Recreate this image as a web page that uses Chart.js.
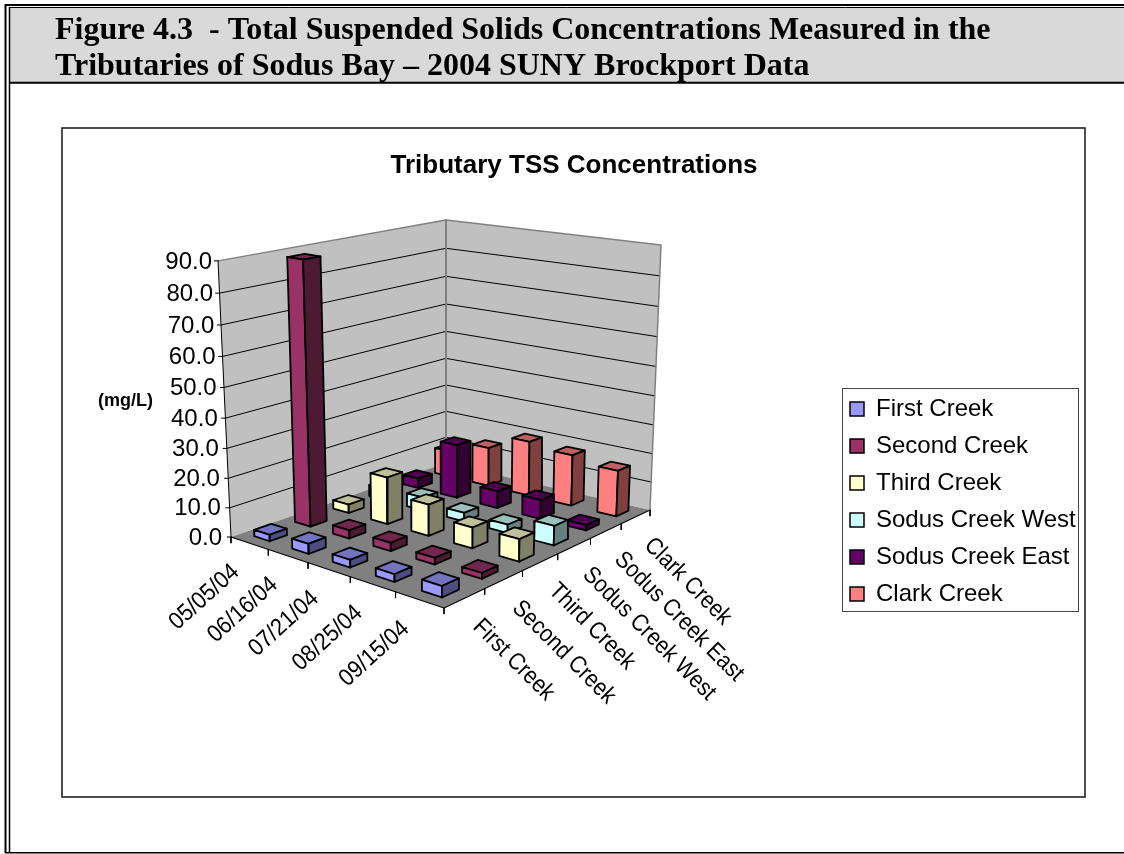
<!DOCTYPE html>
<html><head><meta charset="utf-8">
<style>html,body{margin:0;padding:0;background:#fff}canvas{display:block}</style>
<script src="https://cdn.jsdelivr.net/npm/chart.js@4"></script>
</head><body>
<canvas id="c" width="1124" height="854"></canvas>
<script>
const headingLines = ["Figure 4.3  - Total Suspended Solids Concentrations Measured in the",
  "Tributaries of Sodus Bay \u2013 2004 SUNY Brockport Data"];
const chartTitle = "Tributary TSS Concentrations";
const unitLabel = "(mg/L)";
const dates = ["05/05/04","06/16/04","07/21/04","08/25/04","09/15/04"];
const seriesNames = ["First Creek","Second Creek","Third Creek","Sodus Creek West","Sodus Creek East","Clark Creek"];
const yTicks = [0,10,20,30,40,50,60,70,80,90];
const firstCreek = [2.2,3.4,2.5,2.5,3.6];
const secondCreek = [88.5,2.8,2.8,2.2,1.9];
const thirdCreek = [3,16.2,10.7,7,7.4];
const sodusWest = [4,4.6,3,2.9,6.6];
const sodusEast = [3.5,19,6,6.6,1.8];
const clarkCreek = [9.5,14,19.5,18,16];
const faceColors = [
 ["#9999FF","#7373BF","#4D4D80"],
 ["#993366","#73264D","#4D1A33"],
 ["#FFFFCC","#BFBF99","#808066"],
 ["#CCFFFF","#99BFBF","#668080"],
 ["#660066","#4D004D","#330033"],
 ["#FF8080","#BF6060","#804040"]];
const allSeries = [firstCreek,secondCreek,thirdCreek,sodusWest,sodusEast,clarkCreek];

// 3D view frame: screen corners of the floor and of the top plane
const floorQuad=[{x:231,y:537},{x:444,y:608},{x:650,y:510},{x:446,y:463}];
const topQuad=[{x:218,y:261},{x:444,y:303},{x:661,y:245},{x:446,y:220}];
const yMax=90, barLo=0.295, barHi=0.71, K=-0.0553, VY=5254;
function homography(q){
  const [A,B,C,D]=q;
  const dx1=B.x-C.x,dx2=D.x-C.x,sx=A.x-B.x+C.x-D.x,dy1=B.y-C.y,dy2=D.y-C.y,sy=A.y-B.y+C.y-D.y;
  const den=dx1*dy2-dx2*dy1,g=(sx*dy2-dx2*sy)/den,h=(dx1*sy-sx*dy1)/den;
  const a=B.x-A.x+g*B.x,b=D.x-A.x+h*D.x,d=B.y-A.y+g*B.y,e=D.y-A.y+h*D.y;
  return (s,t)=>{const W=g*s+h*t+1;return {x:(a*s+b*t+A.x)/W,y:(d*s+e*t+A.y)/W};};
}
const Hf=homography(floorQuad),Ht=homography(topQuad);
function P(u,v,val){
  const s=u/dates.length,t=v/seriesNames.length,z=(val/yMax)*K;
  const f=(z*(VY-floorQuad[0].y)/(1+z))/(topQuad[0].y-floorQuad[0].y);
  const p0=Hf(s,t),p1=Ht(s,t);
  return {x:p0.x+(p1.x-p0.x)*f,y:p0.y+(p1.y-p0.y)*f};
}
const ds=[]; // paint order
function poly(label,pts,fillCol,stroke,w){
  ds.push({label,data:pts,fill:fillCol?'shape':false,backgroundColor:fillCol||'transparent',
    borderColor:stroke||'transparent',borderWidth:w===undefined?1:w,pointRadius:0,tension:0,
    borderJoinStyle:'round',borderCapStyle:'round',clip:false});
}
const nU=dates.length,nV=seriesNames.length;
// walls and floor
poly("left wall",[P(0,0,0),P(0,nV,0),P(0,nV,yMax),P(0,0,yMax),P(0,0,0)],"#C0C0C0");
poly("right wall",[P(0,nV,0),P(nU,nV,0),P(nU,nV,yMax),P(0,nV,yMax),P(0,nV,0)],"#C0C0C0");
poly("floor",[P(0,0,0),P(nU,0,0),P(nU,nV,0),P(0,nV,0),P(0,0,0)],"#808080");
// gridlines
yTicks.slice(1,-1).forEach(t=>poly("grid "+t,[P(0,0,t),P(0,nV,t),P(nU,nV,t)],null,"#000000",1));
// wall outlines
poly("wall top",[P(0,0,yMax),P(0,nV,yMax),P(nU,nV,yMax),P(nU,nV,0)],null,"#808080",1.5);
poly("wall back",[P(0,nV,0),P(0,nV,yMax)],null,"#808080",2);
poly("axis y",[P(0,0,0),P(0,0,yMax)],null,"#000000",1);
poly("axis floor",[P(0,0,0),P(nU,0,0),P(nU,nV,0)],null,"#000000",1.2);
// tick marks
yTicks.forEach(t=>{const p=P(0,0,t);poly("ytick "+t,[{x:p.x-4,y:p.y},p],null,"#000000",1);});
for(let i=0;i<=nU;i++){const p=P(i,0,0);poly("xtick "+i,[p,{x:p.x,y:p.y+6}],null,"#000000",1);}
for(let j=1;j<=nV;j++){const p=P(nU,j,0);poly("ztick "+j,[p,{x:p.x,y:p.y+6}],null,"#000000",1);}
// bars, back to front
for(let j=nV-1;j>=0;j--){
  for(let i=0;i<nU;i++){
    const val=allSeries[j][i],c=faceColors[j],n=seriesNames[j]+" "+dates[i];
    const u0=i+barLo,u1=i+barHi,v0=j+barLo,v1=j+barHi,w=1.8;
    poly(n+" top",[P(u0,v0,val),P(u1,v0,val),P(u1,v1,val),P(u0,v1,val),P(u0,v0,val)],c[1],"#000",w);
    poly(n+" front",[P(u0,v0,0),P(u1,v0,0),P(u1,v0,val),P(u0,v0,val),P(u0,v0,0)],c[0],"#000",w);
    poly(n+" side",[P(u1,v0,0),P(u1,v1,0),P(u1,v1,val),P(u1,v0,val),P(u1,v0,0)],c[2],"#000",w);
  }
}
const N=ds.length;
ds.forEach((s,k)=>{s.order=N-k;});
const legendSets=seriesNames.map((n,j)=>({label:n,data:[],legendOnly:true,backgroundColor:faceColors[j][0],
  borderColor:"#000",borderWidth:1.5,order:-10+j,pointRadius:0}));

const SANS='"Liberation Sans"',SERIF='"Liberation Serif"';
function line(ctx,x0,y0,x1,y1,col,w){ctx.strokeStyle=col;ctx.lineWidth=w;ctx.beginPath();ctx.moveTo(x0,y0);ctx.lineTo(x1,y1);ctx.stroke();}
const deco={id:'deco',
 afterLayout(chart){const l=chart.legend;l.left=837;l.top=384;l.width=240;l.height=240;l.right=1077;l.bottom=640;l.adjustHitBoxes();},
 beforeDraw(chart){
  const ctx=chart.ctx;ctx.save();
  ctx.fillStyle="#fff";ctx.fillRect(0,0,1124,854);
  ctx.fillStyle="#D9D9D9";ctx.fillRect(10,8,1114,74);
  line(ctx,5.5,5,1124,5,"#000",2);line(ctx,5.5,4,5.5,853,"#000",2);
  line(ctx,9.5,7.5,1124,7.5,"#000",1);line(ctx,9.5,7,9.5,853,"#000",1.5);
  line(ctx,10,82.8,1124,82.8,"#000",2);
  line(ctx,5,852.8,1124,852.8,"#000",1.5);
  ctx.fillStyle="#000";ctx.textBaseline="alphabetic";ctx.textAlign="left";
  ctx.font='bold 32px '+SERIF;
  ctx.fillText(headingLines[0],55,39);ctx.fillText(headingLines[1],55,75);
  // chart frame
  ctx.strokeStyle="#222";ctx.lineWidth=1.6;ctx.strokeRect(62,128,1023,669);
  // legend frame
  ctx.strokeStyle="#444";ctx.lineWidth=1;ctx.strokeRect(842.5,388.5,236,223);
  ctx.restore();
 },
 afterDraw(chart){
  const ctx=chart.ctx;ctx.save();ctx.fillStyle="#000";
  ctx.textBaseline="middle";ctx.textAlign="center";
  ctx.font='bold 26px '+SANS;ctx.fillText(chartTitle,574,166);
  ctx.font='bold 18px '+SANS;ctx.fillText(unitLabel,125.5,401);
  ctx.font='24px '+SANS;ctx.textAlign="right";
  yTicks.forEach(t=>{const p=P(0,0,t);ctx.fillText(t.toFixed(1),p.x-9+(t/90)*3,p.y+1);});
  dates.forEach((s,i)=>{const p=P(i+0.5,0,0);ctx.save();ctx.translate(p.x-45,p.y+54);ctx.rotate(-42*Math.PI/180);ctx.scale(0.91,1);
    ctx.textAlign="center";ctx.fillText(s,0,0);ctx.restore();});
  seriesNames.forEach((s,j)=>{const p=P(nU,j+0.5,0);ctx.save();ctx.translate(p.x+12,p.y+25);ctx.rotate(Math.PI/4);ctx.scale(0.89,1);
    ctx.textAlign="left";ctx.fillText(s,0,0);ctx.restore();});
  ctx.restore();
 }};
new Chart(document.getElementById('c'),{
 type:'line',
 data:{datasets:legendSets.concat(ds)},
 plugins:[deco],
 options:{responsive:false,animation:false,events:[],
  layout:{padding:0},
  scales:{x:{type:'linear',min:0,max:1124,display:false},y:{type:'linear',min:0,max:854,reverse:true,display:false}},
  plugins:{tooltip:{enabled:false},title:{display:false},
   legend:{display:true,position:'chartArea',align:'start',
    labels:{boxWidth:14,boxHeight:14,padding:13,color:'#000',font:{family:'Liberation Sans',size:24,lineHeight:1},
     filter:(item,data)=>!!data.datasets[item.datasetIndex].legendOnly}}}
 }
});
</script></body></html>
